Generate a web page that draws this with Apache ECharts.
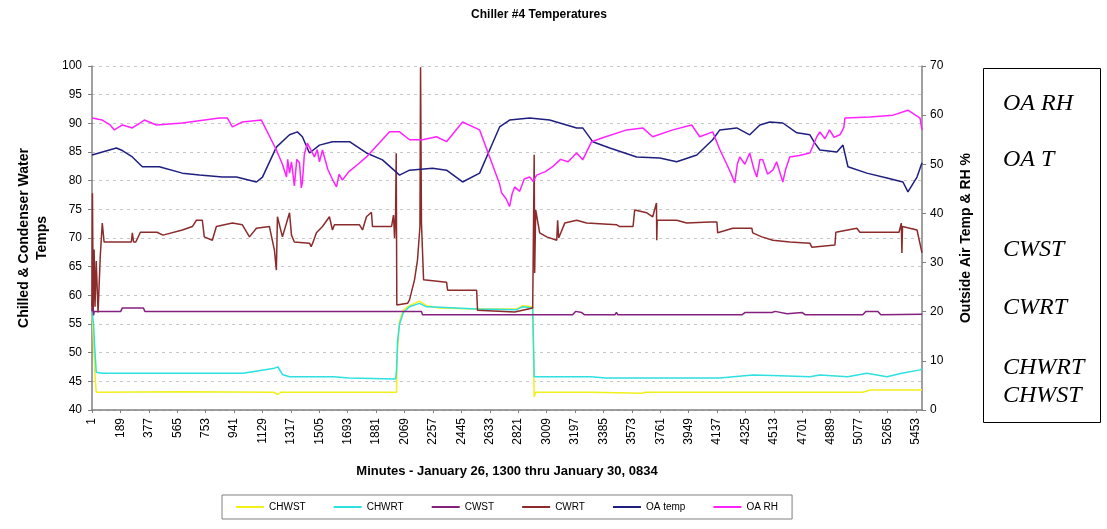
<!DOCTYPE html>
<html style="height: 100%">
  <head>
    <meta charset="UTF-8" />
    <title>Chiller #4 Temperatures</title>
    <script src="https://cdn.jsdelivr.net/npm/echarts/dist/echarts.min.js"></script>
  </head>
  <body style="height: 100%; margin: 0; background: #fff">
    <div id="main" style="width: 1107px; height: 529px"></div>
    <script>
      // minute index (0 = minute 1) -> value
      var xTickLabels = ['1', '189', '377', '565', '753', '941', '1129', '1317', '1505', '1693',
        '1881', '2069', '2257', '2445', '2633', '2821', '3009', '3197', '3385', '3573',
        '3761', '3949', '4137', '4325', '4513', '4701', '4889', '5077', '5265', '5453'];

      var chwst = [[0, 57], [10, 52], [20, 46], [28, 43.1], [600, 43.2], [1200, 43.1], [1230, 42.7],
        [1250, 43.1], [2015, 43.1], [2020, 50], [2035, 55.5], [2060, 57.4], [2101, 58.2], [2167, 59],
        [2213, 58.2], [2300, 57.8], [2545, 57.6], [2810, 57.6], [2849, 58.2], [2916, 58], [2926, 42.3],
        [2936, 43.1], [3300, 43.1], [3640, 42.9], [3660, 43.1], [5100, 43.1], [5150, 43.5], [5492, 43.5]];

      var chwrt = [[0, 57.2], [10, 55], [20, 50], [28, 46.6], [68, 46.4], [500, 46.4], [1000, 46.4],
        [1207, 47.3], [1230, 47.5], [1260, 46.2], [1307, 45.8], [1600, 45.8], [1700, 45.6], [2009, 45.4],
        [2015, 47], [2022, 52], [2035, 55], [2060, 57], [2101, 58], [2167, 58.6], [2213, 58],
        [2300, 57.9], [2545, 57.6], [2810, 57.5], [2849, 58], [2916, 57.8], [2926, 45.8], [3300, 45.8],
        [3400, 45.6], [4154, 45.6], [4372, 46.1], [4500, 46], [4750, 45.8], [4816, 46.1], [5000, 45.8],
        [5127, 46.4], [5260, 45.8], [5359, 46.4], [5479, 47], [5492, 47.2]];

      var cwst = [[0, 57.2], [5, 60], [10, 56.5], [15, 57.2], [190, 57.2], [201, 57.8], [340, 57.8],
        [350, 57.2], [2180, 57.2], [2187, 56.6], [3180, 56.6], [3200, 57.2], [3240, 57], [3260, 56.6],
        [3460, 56.6], [3470, 57], [3480, 56.6], [4300, 56.6], [4320, 57], [4500, 57], [4520, 57.2],
        [4600, 56.8], [4700, 57], [4720, 56.6], [5100, 56.6], [5120, 57.2], [5200, 57.2], [5220, 56.6],
        [5492, 56.7]];

      var cwrt = [[0, 58], [3, 77.8], [8, 57.5], [14, 68], [20, 58], [28, 66], [40, 57], [55, 67],
        [68, 72.6], [80, 69.3], [260, 69.3], [267, 70.9], [275, 69.3], [290, 69.3], [320, 71],
        [430, 71], [470, 70.5], [598, 71.4], [664, 72], [691, 73.1], [730, 73.1], [743, 70.2],
        [796, 69.6], [823, 72], [929, 72.6], [995, 72.3], [1042, 70.2], [1088, 71.7], [1174, 72],
        [1207, 67.9], [1220, 64.4], [1227, 73.7], [1260, 70.2], [1307, 74.4], [1320, 70.5], [1339, 69.3],
        [1439, 69.1], [1450, 68.5], [1460, 69.1], [1485, 70.9], [1525, 72], [1571, 73.7], [1591, 71.4],
        [1604, 72.3], [1770, 72.3], [1790, 71.4], [1816, 73.7], [1849, 74.5], [1856, 72], [1982, 72],
        [1995, 74], [2002, 70], [2009, 74.5], [2013, 84.8], [2017, 58.3], [2088, 58.6], [2101, 59.2],
        [2134, 62.7], [2154, 66.2], [2170, 72], [2174, 99.8], [2180, 72.6], [2194, 62.7], [2346, 62.3],
        [2353, 60.9], [2545, 60.9], [2551, 57.4], [2797, 57.1], [2916, 57.8], [2922, 57.8], [2926, 84.5],
        [2929, 63.9], [2936, 74.9], [2962, 70.9], [3009, 70.2], [3075, 69.6], [3081, 73.1], [3088, 70],
        [3128, 72.6], [3207, 73.1], [3273, 72.6], [3472, 72.3], [3492, 72], [3580, 72], [3591, 74.9],
        [3671, 74.4], [3710, 73.7], [3735, 76.1], [3737, 69.6], [3740, 73.1], [3869, 73.1], [3935, 72.6],
        [4087, 72.8], [4135, 72.8], [4140, 70.9], [4240, 71.7], [4366, 71.7], [4372, 70.9], [4432, 70.2],
        [4505, 69.6], [4617, 69.3], [4750, 69.1], [4763, 68.4], [4916, 68.8], [4922, 71], [5061, 71.7],
        [5081, 71], [5340, 71], [5355, 72.6], [5359, 67.4], [5363, 72], [5459, 71.4], [5492, 67.4]];

      var oaTemp = [[0, 51.9], [161, 53.3], [201, 52.8], [267, 51.5], [333, 49.5], [445, 49.5],
        [598, 48.2], [711, 47.8], [863, 47.4], [956, 47.4], [1088, 46.4], [1128, 47.4], [1220, 53.5],
        [1307, 56], [1359, 56.6], [1392, 55.6], [1439, 52.3], [1505, 53.9], [1591, 54.6], [1704, 54.6],
        [1816, 52.3], [1922, 50.9], [2035, 47.8], [2101, 48.8], [2253, 49.2], [2346, 48.8], [2452, 46.4],
        [2565, 48.2], [2631, 52.9], [2697, 57.6], [2763, 59], [2896, 59.4], [3028, 59], [3207, 57.4],
        [3247, 57.4], [3313, 54.6], [3426, 53.3], [3604, 51.5], [3757, 51.3], [3869, 50.5], [4002, 51.9],
        [4107, 55], [4154, 57], [4266, 57.4], [4352, 56], [4419, 58], [4485, 58.6], [4571, 58.4],
        [4664, 56.4], [4750, 56], [4783, 54.3], [4816, 52.9], [4929, 52.5], [4969, 53.9], [5002, 49.5],
        [5127, 48.2], [5260, 47.2], [5366, 46.4], [5399, 44.4], [5459, 47.4], [5492, 50.3]];

      var oaRH = [[0, 59.4], [68, 59], [120, 58], [148, 57], [201, 58], [267, 57.4], [313, 58.3],
        [346, 59], [426, 58], [598, 58.4], [843, 59.4], [896, 59.4], [929, 57.6], [995, 58.6],
        [1121, 59], [1220, 52.9], [1260, 50], [1287, 47.4], [1295, 51], [1307, 48.2], [1320, 50.5],
        [1339, 45.6], [1355, 51], [1373, 50.3], [1385, 45.2], [1392, 46.2], [1405, 52], [1425, 54.3],
        [1472, 51.5], [1490, 53], [1505, 50.5], [1525, 52.9], [1560, 49], [1590, 47], [1618, 45.4],
        [1635, 48], [1657, 46.8], [1700, 48.5], [1760, 50], [1816, 51.5], [1969, 56.6], [2035, 56.6],
        [2101, 55], [2187, 55], [2280, 55.6], [2346, 54.6], [2452, 58.6], [2565, 57], [2631, 51.5],
        [2697, 46], [2710, 44.2], [2740, 43], [2763, 41.4], [2780, 44], [2797, 45.4], [2830, 44.5],
        [2860, 47], [2896, 47.4], [2920, 46.5], [2942, 47.8], [3000, 48.5], [3048, 49.5], [3100, 51],
        [3150, 50.5], [3207, 52.3], [3247, 50.9], [3306, 54.6], [3379, 55.4], [3538, 57], [3644, 57.4],
        [3710, 55.6], [3843, 57], [3968, 58], [4021, 55.6], [4107, 56.6], [4154, 53], [4200, 50],
        [4230, 48], [4253, 46.2], [4270, 50], [4286, 51.5], [4320, 50], [4352, 52.3], [4380, 49],
        [4399, 47.4], [4420, 51], [4438, 50.9], [4470, 48], [4505, 48.8], [4530, 50.5], [4571, 46.4],
        [4590, 49], [4617, 51.5], [4680, 51.8], [4750, 52.3], [4796, 55.6], [4816, 56.6], [4850, 55.2],
        [4880, 57], [4910, 55.5], [4949, 56], [4975, 57.5], [4982, 59.4], [5147, 59.6], [5300, 60],
        [5399, 61], [5479, 59.4], [5492, 57]];

      var seriesNames = ['CHWST', 'CHWRT', 'CWST', 'CWRT', 'OA temp', 'OA RH'];
      var seriesData = [chwst, chwrt, cwst, cwrt, oaTemp, oaRH];
      var seriesAxis = [0, 0, 0, 0, 1, 1];
      var colors = ['#f2ef1a', '#2ee0e0', '#85207f', '#8c2b2b', '#1f1f80', '#ff22ff'];

      var chartDom = document.getElementById('main');
      var myChart = echarts.init(chartDom);
      var option;

      var seriesList = [];
      seriesNames.forEach(function (name, i) {
        seriesList.push({
          type: 'line',
          name: name,
          yAxisIndex: seriesAxis[i],
          data: seriesData[i],
          showSymbol: false,
          lineStyle: { width: 1.5, color: colors[i] },
          itemStyle: { color: colors[i] }
        });
      });

      var font = 'Liberation Sans, Arial, sans-serif';

      option = {
        animation: false,
        textStyle: { fontFamily: font, color: '#000' },
        title: {
          text: 'Chiller #4 Temperatures',
          left: 534,
          top: 4,
          textAlign: 'center',
          textStyle: { fontSize: 12, fontWeight: 'bold', fontFamily: font, color: '#000' }
        },
        legend: {
          left: 222,
          top: 495,
          padding: [7, 14],
          icon: 'rect',
          itemWidth: 28,
          itemHeight: 2,
          itemGap: 28,
          borderColor: '#808080',
          borderWidth: 1,
          textStyle: { fontSize: 10, fontFamily: font, color: '#000' },
          data: seriesNames
        },
        grid: { left: 92, right: 185, top: 66, bottom: 119 },
        xAxis: {
          type: 'value',
          min: 0,
          max: 5492,
          interval: 188,
          name: 'Minutes - January 26, 1300 thru January 30, 0834',
          nameLocation: 'middle',
          nameGap: 55,
          nameTextStyle: { fontSize: 13, fontWeight: 'bold', color: '#000' },
          axisLine: { lineStyle: { color: '#808080', width: 1.5 } },
          axisTick: { show: true, length: 3, lineStyle: { color: '#808080' } },
          splitLine: { show: false },
          axisLabel: {
            rotate: 90,
            fontSize: 12,
            margin: 8,
            color: '#000',
            showMaxLabel: false,
            formatter: function (v) {
              var k = Math.round(v / 188);
              return v % 188 === 0 && xTickLabels[k] ? xTickLabels[k] : '';
            }
          }
        },
        yAxis: [
          {
            type: 'value',
            min: 40,
            max: 100,
            interval: 5,
            name: 'Chilled & Condenser Water\nTemps',
            nameLocation: 'middle',
            nameGap: 37,
            nameTextStyle: { fontSize: 14, fontWeight: 'bold', color: '#000', lineHeight: 18 },
            axisLine: { show: true, lineStyle: { color: '#808080', width: 1.5 } },
            axisTick: { show: true, length: 4, lineStyle: { color: '#808080' } },
            axisLabel: { fontSize: 12, margin: 10, color: '#000' },
            splitLine: { show: true, lineStyle: { color: '#c8c8c8', type: [3, 4] } }
          },
          {
            type: 'value',
            min: 0,
            max: 70,
            interval: 10,
            position: 'right',
            name: 'Outside Air Temp & RH %',
            nameLocation: 'middle',
            nameRotate: 90,
            nameGap: 37,
            nameTextStyle: { fontSize: 14, fontWeight: 'bold', color: '#000' },
            axisLine: { show: true, lineStyle: { color: '#808080', width: 1.5 } },
            axisTick: { show: true, length: 4, lineStyle: { color: '#808080' } },
            axisLabel: { fontSize: 12, margin: 8, color: '#000' },
            splitLine: { show: false }
          }
        ],
        graphic: [
          {
            type: 'rect',
            left: 983,
            top: 68,
            shape: { width: 117, height: 354 },
            style: { fill: '#fff', stroke: '#000', lineWidth: 1 }
          },
          { type: 'text', left: 1003, top: 92, style: { text: 'OA RH', font: 'italic 24px "Liberation Serif", serif', fill: '#000' } },
          { type: 'text', left: 1003, top: 148, style: { text: 'OA T', font: 'italic 24px "Liberation Serif", serif', fill: '#000' } },
          { type: 'text', left: 1003, top: 238, style: { text: 'CWST', font: 'italic 24px "Liberation Serif", serif', fill: '#000' } },
          { type: 'text', left: 1003, top: 296, style: { text: 'CWRT', font: 'italic 24px "Liberation Serif", serif', fill: '#000' } },
          { type: 'text', left: 1003, top: 356, style: { text: 'CHWRT', font: 'italic 24px "Liberation Serif", serif', fill: '#000' } },
          { type: 'text', left: 1003, top: 384, style: { text: 'CHWST', font: 'italic 24px "Liberation Serif", serif', fill: '#000' } }
        ],
        series: seriesList
      };

      option && myChart.setOption(option);
    </script>
  </body>
</html>
